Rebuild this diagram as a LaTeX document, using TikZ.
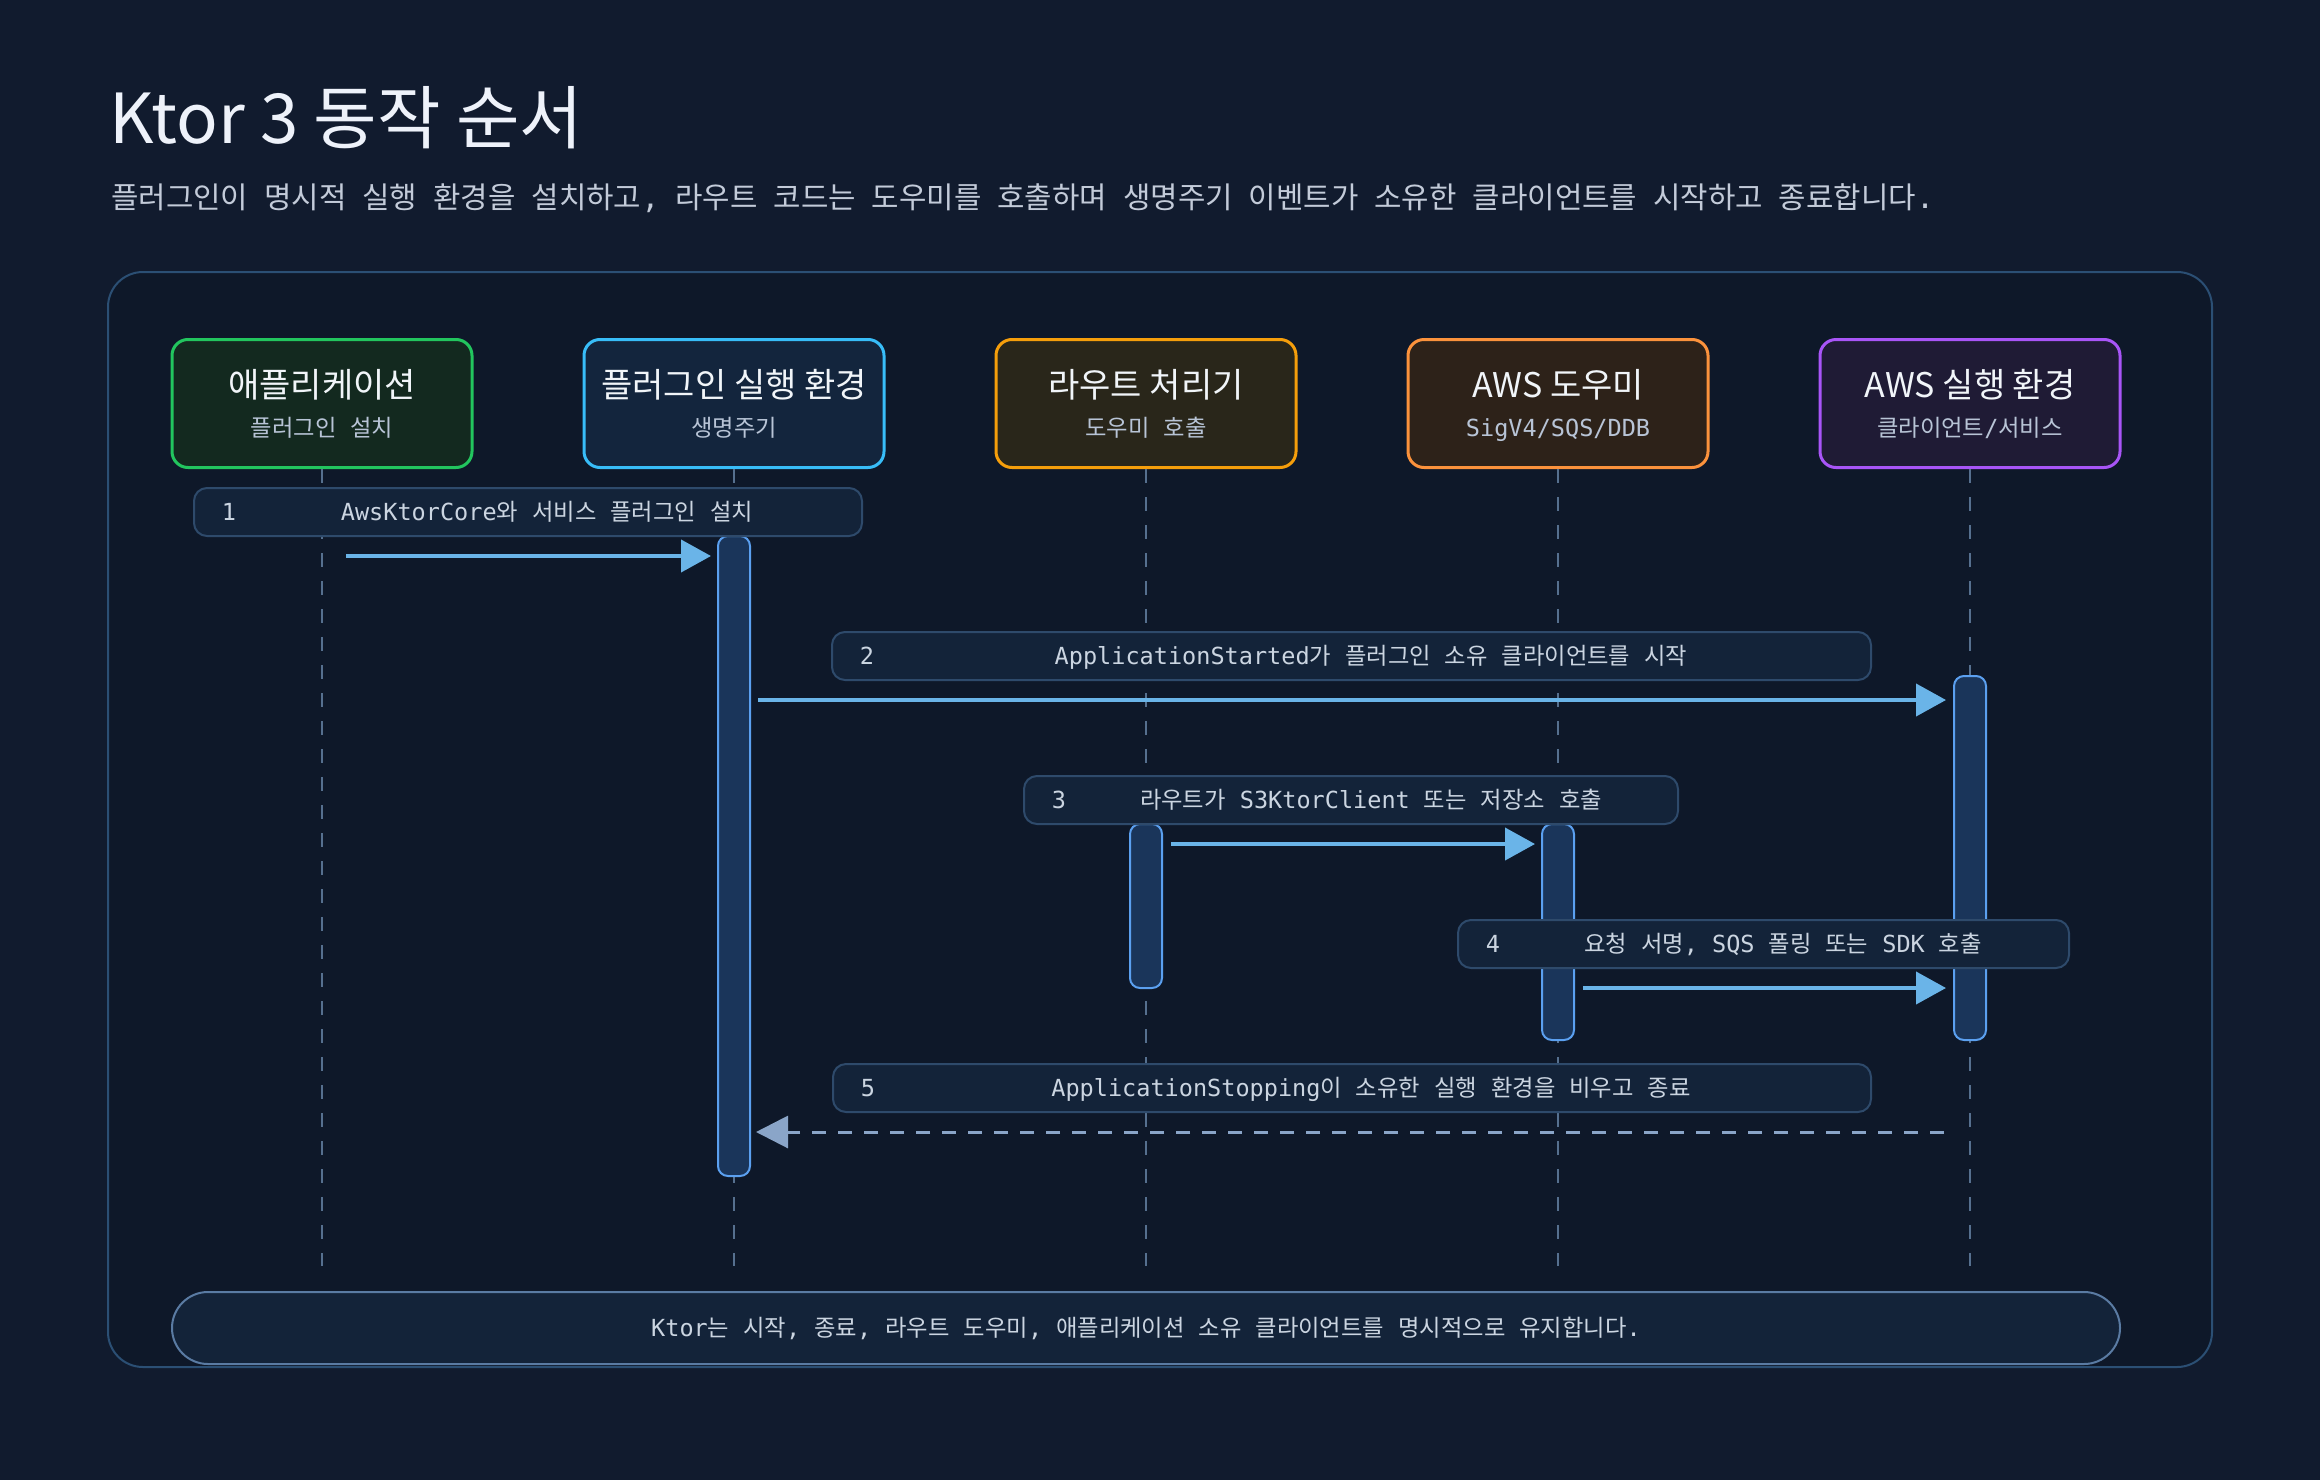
\documentclass[tikz,border=0pt]{standalone}
\usepackage{fontspec}
\setmainfont{Noto Sans CJK KR}
\newfontfamily\mono{DejaVu Sans Mono}[Scale=1.01]
\usetikzlibrary{arrows.meta}
\newcommand\setfs[1]{\fontsize{#1}{#1}\selectfont}
\definecolor{bgc}{HTML}{111B2E}
\definecolor{framefill}{HTML}{0E1829}
\definecolor{framec}{HTML}{2B4F74}
\definecolor{titlec}{HTML}{EEF2FA}
\definecolor{subc}{HTML}{C3CBD9}
\definecolor{hdrtext}{HTML}{F1F5F9}
\definecolor{hsubtext}{HTML}{B8C4D6}
\definecolor{lifec}{HTML}{56708F}
\definecolor{barfill}{HTML}{1A355A}
\definecolor{barline}{HTML}{5BA0F0}
\definecolor{lboxfill}{HTML}{132339}
\definecolor{lboxline}{HTML}{2E4A6B}
\definecolor{lbltext}{HTML}{CBD5E1}
\definecolor{arrowc}{HTML}{6AB4E8}
\definecolor{retc}{HTML}{8AA5C8}
\definecolor{footfill}{HTML}{132339}
\definecolor{footline}{HTML}{5A7BA3}
\definecolor{gline}{HTML}{22C55E}\definecolor{gfill}{HTML}{13291F}
\definecolor{bline}{HTML}{38BDF8}\definecolor{bfill}{HTML}{13253D}
\definecolor{aline}{HTML}{F59E0B}\definecolor{afill}{HTML}{29261A}
\definecolor{oline}{HTML}{FB923C}\definecolor{ofill}{HTML}{2D2219}
\definecolor{pline}{HTML}{A855F7}\definecolor{pfill}{HTML}{1F1B35}
\begin{document}
\begin{tikzpicture}[x=1pt,y=-1pt,
  hdr/.style={draw, line width=3pt, rounded corners=16pt, minimum width=300pt, minimum height=128pt, inner sep=0pt},
  htitle/.style={anchor=base, inner sep=0pt, text=hdrtext, font=\setfs{34}},
  hsub/.style={anchor=base, inner sep=0pt, text=hsubtext, font={\setfs{23.3}\spaceskip=14pt\relax}},
  life/.style={draw=lifec, line width=2.5pt, dash pattern=on 14pt off 14pt},
  bar/.style={draw=barline, fill=barfill, line width=2pt, rounded corners=10pt, minimum width=32pt, inner sep=0pt},
  lbox/.style={draw=lboxline, fill=lboxfill, line width=2pt, rounded corners=13pt, minimum height=48pt, inner sep=0pt},
  ltext/.style={anchor=base, inner sep=0pt, text=lbltext, font={\setfs{23.3}\spaceskip=14pt\relax}},
  msg/.style={draw=arrowc, line width=4pt, -{Triangle[length=30pt,width=32pt]}},
  ret/.style={draw=retc, line width=3pt, dash pattern=on 14pt off 12pt, -{Triangle[length=32pt,width=32pt]}},
]
\useasboundingbox (0,0) rectangle (2320,1480);
\fill[bgc] (0,0) rectangle (2320,1480);

% title
\node[anchor=base west, inner sep=0pt, text=titlec, font=\setfs{69}] (title) at (109,143) {Ktor 3 동작 순서};
\node[anchor=base west, inner sep=0pt, text=subc, font={\setfs{29.8}\spaceskip=16pt\relax}] (subtitle) at (111,208)
  {플러그인이 명시적 실행 환경을 설치하고{\mono ,} 라우트 코드는 도우미를 호출하며 생명주기 이벤트가 소유한 클라이언트를 시작하고 종료합니다{\mono .}};

% frame
\draw[draw=framec, fill=framefill, line width=2pt, rounded corners=35pt] (108,272) rectangle (2212,1367);

% headers
\node[hdr, draw=gline, fill=gfill] (app) at (322,403.5) {};
\node[hdr, draw=bline, fill=bfill] (plug) at (734,403.5) {};
\node[hdr, draw=aline, fill=afill] (route) at (1146,403.5) {};
\node[hdr, draw=oline, fill=ofill] (aws) at (1558,403.5) {};
\node[hdr, draw=pline, fill=pfill] (run) at (1970,403.5) {};

\node[htitle] (appT) at (322,397) {애플리케이션};
\node[hsub] (appS) at (322,436) {플러그인 설치};
\node[htitle] (plugT) at (734,397) {플러그인 실행 환경};
\node[hsub] (plugS) at (734,436) {생명주기};
\node[htitle] (routeT) at (1146,397) {라우트 처리기};
\node[hsub] (routeS) at (1146,436) {도우미 호출};
\node[htitle] (awsT) at (1558,397) {AWS 도우미};
\node[hsub] (awsS) at (1558,436) {\mono SigV4/SQS/DDB};
\node[htitle] (runT) at (1970,397) {AWS 실행 환경};
\node[hsub] (runS) at (1970,436) {클라이언트{\mono /}서비스};

% lifelines
\coordinate (lifeEnd) at (0,1266);
\foreach \n in {app,plug,route,aws,run}
  \draw[life] (\n.south) -- (\n.south |- lifeEnd);

% activation bars
\node[bar, minimum height=640pt] (bPlug) at (734,856) {};
\node[bar, minimum height=364pt] (bRun) at (1970,858) {};
\node[bar, minimum height=164pt] (bRoute) at (1146,906) {};
\node[bar, minimum height=216pt] (bAws) at (1558,932) {};

% message label boxes
\node[lbox, minimum width=668pt] (m1) at (528,512) {};
\node[lbox, minimum width=1039pt] (m2) at (1351.5,656) {};
\node[lbox, minimum width=654pt] (m3) at (1351,800) {};
\node[lbox, minimum width=611pt] (m4) at (1763.5,944) {};
\node[lbox, minimum width=1038pt] (m5) at (1352,1088) {};

\node[ltext] (n1) at (229,520) {\mono 1};
\node[ltext] (t1) at (547,520) {{\mono AwsKtorCore}와 서비스 플러그인 설치};
\node[ltext] (n2) at (867,664) {\mono 2};
\node[ltext] (t2) at (1371,664) {{\mono ApplicationStarted}가 플러그인 소유 클라이언트를 시작};
\node[ltext] (n3) at (1059,808) {\mono 3};
\node[ltext] (t3) at (1371,808) {라우트가 {\mono S3KtorClient} 또는 저장소 호출};
\node[ltext] (n4) at (1493,952) {\mono 4};
\node[ltext] (t4) at (1783,952) {요청 서명{\mono ,} {\mono SQS} 폴링 또는 {\mono SDK} 호출};
\node[ltext] (n5) at (868,1096) {\mono 5};
\node[ltext] (t5) at (1371,1096) {{\mono ApplicationStopping}이 소유한 실행 환경을 비우고 종료};

% messages
\coordinate (y1) at (0,556);
\coordinate (y2) at (0,700);
\coordinate (y3) at (0,844);
\coordinate (y4) at (0,988);
\coordinate (y5) at (0,1132);
\draw[msg, shorten <=24pt, shorten >=6pt] (app.south |- y1) -- (bPlug.west |- y1);
\draw[msg, shorten <=7pt, shorten >=7pt] (bPlug.east |- y2) -- (bRun.west |- y2);
\draw[msg, shorten <=8pt, shorten >=6pt] (bRoute.east |- y3) -- (bAws.west |- y3);
\draw[msg, shorten <=8pt, shorten >=7pt] (bAws.east |- y4) -- (bRun.west |- y4);
\draw[ret, shorten <=26pt, shorten >=5pt] (run.south |- y5) -- (bPlug.east |- y5);

% footer
\node[draw=footline, fill=footfill, line width=2pt, rounded corners=36pt, minimum width=1948pt, minimum height=72pt, inner sep=0pt] (foot) at (1146,1328) {};
\node[ltext] (footT) at (1146,1336) {{\mono Ktor}는 시작{\mono ,} 종료{\mono ,} 라우트 도우미{\mono ,} 애플리케이션 소유 클라이언트를 명시적으로 유지합니다{\mono .}};
\end{tikzpicture}
\end{document}
